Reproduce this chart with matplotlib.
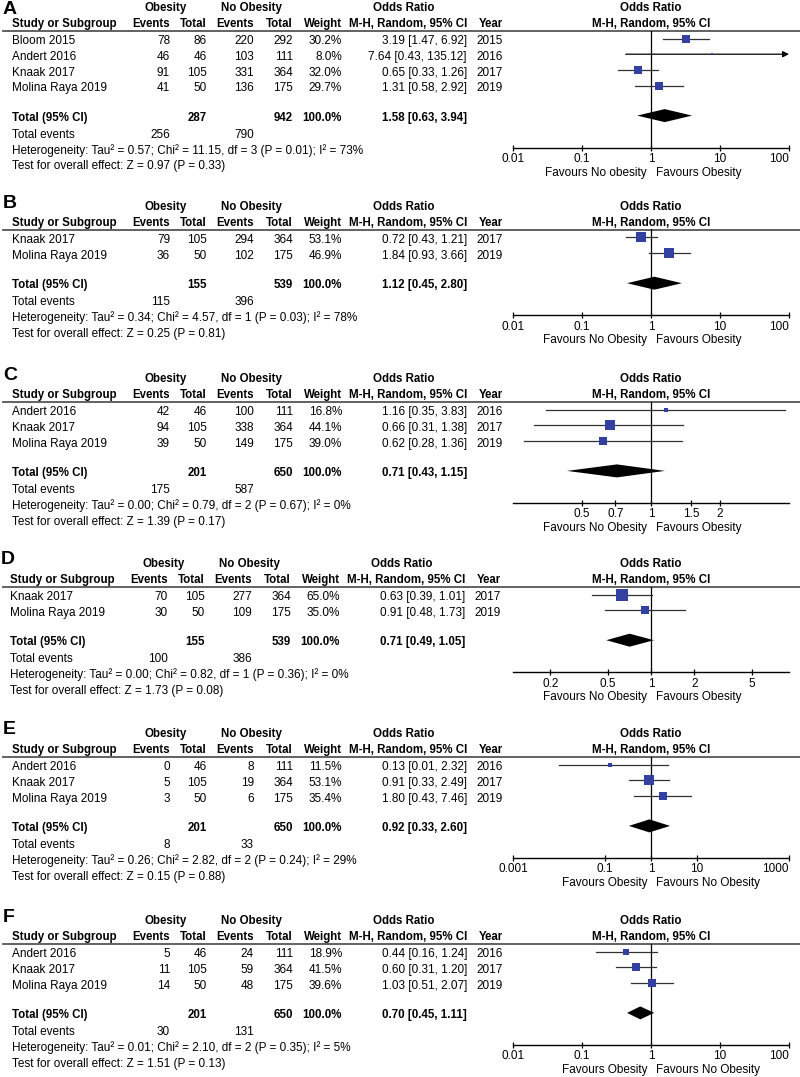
import math
import matplotlib
matplotlib.use("Agg")
import matplotlib.pyplot as plt
from matplotlib.ticker import NullLocator

plt.rcParams["font.family"] = ["Liberation Sans", "DejaVu Sans"]

# ---- Panel A ----
A_studies = ["Bloom 2015", "Andert 2016", "Knaak 2017", "Molina Raya 2019"]
A_ev_ob = [78, 46, 91, 41]
A_n_ob = [86, 46, 105, 50]
A_ev_no = [220, 103, 331, 136]
A_n_no = [292, 111, 364, 175]
A_weight = [30.2, 8.0, 32.0, 29.7]
A_or = [3.19, 7.64, 0.65, 1.31]
A_lo = [1.47, 0.43, 0.33, 0.58]
A_hi = [6.92, 135.12, 1.26, 2.92]
A_year = [2015, 2016, 2017, 2019]
A_total = [287, 942, 1.58, 0.63, 3.94]
A_events = [256, 790]
A_het = [0.57, 11.15, 3, 0.01, 73]
A_test = [0.97, 0.33]
A_ticks = [0.01, 0.1, 1, 10, 100]
A_favours = ["Favours No obesity", "Favours Obesity"]

# ---- Panel B ----
B_studies = ["Knaak 2017", "Molina Raya 2019"]
B_ev_ob = [79, 36]
B_n_ob = [105, 50]
B_ev_no = [294, 102]
B_n_no = [364, 175]
B_weight = [53.1, 46.9]
B_or = [0.72, 1.84]
B_lo = [0.43, 0.93]
B_hi = [1.21, 3.66]
B_year = [2017, 2019]
B_total = [155, 539, 1.12, 0.45, 2.80]
B_events = [115, 396]
B_het = [0.34, 4.57, 1, 0.03, 78]
B_test = [0.25, 0.81]
B_ticks = [0.01, 0.1, 1, 10, 100]
B_favours = ["Favours No Obesity", "Favours Obesity"]

# ---- Panel C ----
C_studies = ["Andert 2016", "Knaak 2017", "Molina Raya 2019"]
C_ev_ob = [42, 94, 39]
C_n_ob = [46, 105, 50]
C_ev_no = [100, 338, 149]
C_n_no = [111, 364, 175]
C_weight = [16.8, 44.1, 39.0]
C_or = [1.16, 0.66, 0.62]
C_lo = [0.35, 0.31, 0.28]
C_hi = [3.83, 1.38, 1.36]
C_year = [2016, 2017, 2019]
C_total = [201, 650, 0.71, 0.43, 1.15]
C_events = [175, 587]
C_het = [0.00, 0.79, 2, 0.67, 0]
C_test = [1.39, 0.17]
C_ticks = [0.5, 0.7, 1, 1.5, 2]
C_favours = ["Favours No Obesity", "Favours Obesity"]

# ---- Panel D ----
D_studies = ["Knaak 2017", "Molina Raya 2019"]
D_ev_ob = [70, 30]
D_n_ob = [105, 50]
D_ev_no = [277, 109]
D_n_no = [364, 175]
D_weight = [65.0, 35.0]
D_or = [0.63, 0.91]
D_lo = [0.39, 0.48]
D_hi = [1.01, 1.73]
D_year = [2017, 2019]
D_total = [155, 539, 0.71, 0.49, 1.05]
D_events = [100, 386]
D_het = [0.00, 0.82, 1, 0.36, 0]
D_test = [1.73, 0.08]
D_ticks = [0.2, 0.5, 1, 2, 5]
D_favours = ["Favours No Obesity", "Favours Obesity"]

# ---- Panel E ----
E_studies = ["Andert 2016", "Knaak 2017", "Molina Raya 2019"]
E_ev_ob = [0, 5, 3]
E_n_ob = [46, 105, 50]
E_ev_no = [8, 19, 6]
E_n_no = [111, 364, 175]
E_weight = [11.5, 53.1, 35.4]
E_or = [0.13, 0.91, 1.80]
E_lo = [0.01, 0.33, 0.43]
E_hi = [2.32, 2.49, 7.46]
E_year = [2016, 2017, 2019]
E_total = [201, 650, 0.92, 0.33, 2.60]
E_events = [8, 33]
E_het = [0.26, 2.82, 2, 0.24, 29]
E_test = [0.15, 0.88]
E_ticks = [0.001, 0.1, 1, 10, 1000]
E_favours = ["Favours Obesity", "Favours No Obesity"]

# ---- Panel F ----
F_studies = ["Andert 2016", "Knaak 2017", "Molina Raya 2019"]
F_ev_ob = [5, 11, 14]
F_n_ob = [46, 105, 50]
F_ev_no = [24, 59, 48]
F_n_no = [111, 364, 175]
F_weight = [18.9, 41.5, 39.6]
F_or = [0.44, 0.60, 1.03]
F_lo = [0.16, 0.31, 0.51]
F_hi = [1.24, 1.20, 2.07]
F_year = [2016, 2017, 2019]
F_total = [201, 650, 0.70, 0.45, 1.11]
F_events = [30, 131]
F_het = [0.01, 2.10, 2, 0.35, 5]
F_test = [1.51, 0.13]
F_ticks = [0.01, 0.1, 1, 10, 100]
F_favours = ["Favours Obesity", "Favours No Obesity"]

labels = ["A", "B", "C", "D", "E", "F"]
panels = [
    (A_studies, A_ev_ob, A_n_ob, A_ev_no, A_n_no, A_weight, A_or, A_lo, A_hi, A_year,
     A_total, A_events, A_het, A_test, A_ticks, A_favours),
    (B_studies, B_ev_ob, B_n_ob, B_ev_no, B_n_no, B_weight, B_or, B_lo, B_hi, B_year,
     B_total, B_events, B_het, B_test, B_ticks, B_favours),
    (C_studies, C_ev_ob, C_n_ob, C_ev_no, C_n_no, C_weight, C_or, C_lo, C_hi, C_year,
     C_total, C_events, C_het, C_test, C_ticks, C_favours),
    (D_studies, D_ev_ob, D_n_ob, D_ev_no, D_n_no, D_weight, D_or, D_lo, D_hi, D_year,
     D_total, D_events, D_het, D_test, D_ticks, D_favours),
    (E_studies, E_ev_ob, E_n_ob, E_ev_no, E_n_no, E_weight, E_or, E_lo, E_hi, E_year,
     E_total, E_events, E_het, E_test, E_ticks, E_favours),
    (F_studies, F_ev_ob, F_n_ob, F_ev_no, F_n_no, F_weight, F_or, F_lo, F_hi, F_year,
     F_total, F_events, F_het, F_test, F_ticks, F_favours),
]

# layout (pixels)
W, H = 800, 1077
tops = [7, 206, 378, 563, 733, 920]
table_dx = [0, 0, 0, -2, 0, 0]
xlims = [(0.01, 100), (0.01, 100), (0.25, 4), (0.11, 9.1), (0.001, 1000), (0.01, 100)]
PL, PR = 513, 789
col_right = [170, 207, 254, 293, 342, 467, 503]
FS = 8.45
FSB = 8.3
blue = "#3340A0"

fig = plt.figure(figsize=(8, 10.77), dpi=100)
bg = fig.add_axes([0, 0, 1, 1])
bg.set_xlim(0, W)
bg.set_ylim(H, 0)
bg.axis("off")


def txt(x, y, s, ha="left", bold=False):
    bg.text(x, y + 4.2, s, ha=ha, va="baseline", fontsize=FSB if bold else FS,
            fontweight="bold" if bold else "normal", color="black")


for k, p in enumerate(panels):
    (studies, ev_ob, n_ob, ev_no, n_no, weight, orv, lo, hi, year,
     total, events, het, test, ticks, favours) = p
    top = tops[k]
    dx = table_dx[k]
    line_y = top + 23.5
    rows = [top + 33 + 15.7 * i for i in range(len(studies))]
    tot_y = rows[-1] + 29.5
    ev_y = tot_y + 17
    het_y = tot_y + 33
    test_y = tot_y + 48.5
    axis_y = het_y - 2

    # panel letter
    bg.text(3 + dx, max(top - 3, 9), labels[k], ha="left", va="center",
            fontsize=14, fontweight="bold")

    # headers
    txt(166 + dx, top, "Obesity", ha="center", bold=True)
    txt(251 + dx, top, "No Obesity", ha="center", bold=True)
    txt(404 + dx, top, "Odds Ratio", ha="center", bold=True)
    txt(12 + dx, top + 15.5, "Study or Subgroup", bold=True)
    for x, s in zip(col_right, ["Events", "Total", "Events", "Total", "Weight",
                                "M-H, Random, 95% CI", "Year"]):
        txt(x + dx, top + 15.5, s, ha="right", bold=True)
    txt(651, top, "Odds Ratio", ha="center", bold=True)
    txt(651, top + 15.5, "M-H, Random, 95% CI", ha="center", bold=True)
    bg.plot([3, W], [line_y, line_y], color="#555555", lw=1.3)

    # study rows
    for i, y in enumerate(rows):
        txt(12 + dx, y, studies[i])
        vals = [str(ev_ob[i]), str(n_ob[i]), str(ev_no[i]), str(n_no[i]),
                "%.1f%%" % weight[i],
                "%.2f [%.2f, %.2f]" % (orv[i], lo[i], hi[i]), str(year[i])]
        for x, s in zip(col_right, vals):
            txt(x + dx, y, s, ha="right")

    # total rows
    txt(12 + dx, tot_y, "Total (95% CI)", bold=True)
    txt(col_right[1] + dx, tot_y, str(total[0]), ha="right", bold=True)
    txt(col_right[3] + dx, tot_y, str(total[1]), ha="right", bold=True)
    txt(col_right[4] + dx, tot_y, "100.0%", ha="right", bold=True)
    txt(col_right[5] + dx, tot_y, "%.2f [%.2f, %.2f]" % (total[2], total[3], total[4]),
        ha="right", bold=True)
    txt(12 + dx, ev_y, "Total events")
    txt(col_right[0] + dx, ev_y, str(events[0]), ha="right")
    txt(col_right[2] + dx, ev_y, str(events[1]), ha="right")
    txt(12 + dx, het_y, "Heterogeneity: Tau\u00b2 = %.2f; Chi\u00b2 = %.2f, df = %d (P = %.2f); I\u00b2 = %d%%"
        % tuple(het))
    txt(12 + dx, test_y, "Test for overall effect: Z = %.2f (P = %.2f)" % tuple(test))

    # forest plot
    ax = fig.add_axes([PL / W, 1 - axis_y / H, (PR - PL) / W, (axis_y - line_y) / H])
    ax.patch.set_alpha(0)
    ax.set_xscale("log")
    xl, xh = xlims[k]
    ax.set_xlim(xl, xh)
    ax.set_ylim(axis_y, line_y)
    for s in ["top", "left", "right"]:
        ax.spines[s].set_visible(False)
    ax.spines["bottom"].set_linewidth(1.0)
    ax.set_yticks([])
    ax.set_xticks(ticks)
    ax.set_xticklabels(["%g" % t for t in ticks])
    ax.xaxis.set_minor_locator(NullLocator())
    ax.tick_params(axis="x", direction="inout", length=5, width=0.9, pad=1.5,
                   labelsize=FS)
    for t, lab in zip(ticks, ax.get_xticklabels()):
        if t >= xh:
            lab.set_horizontalalignment("right")
    ax.axvline(1, color="black", lw=0.9, zorder=1)

    for i, y in enumerate(rows):
        ym = y - 1.5
        if hi[i] > xh:
            ax.annotate("", xy=(xh, ym), xytext=(lo[i], ym),
                        arrowprops=dict(arrowstyle="-|>", lw=0.9, color="black",
                                        mutation_scale=9, shrinkA=0, shrinkB=0),
                        annotation_clip=False)
        else:
            ax.plot([lo[i], hi[i]], [ym, ym], color="#333333", lw=0.9, zorder=2)
        side_px = 12.3 * (weight[i] / 65.0) ** 0.7
        ax.plot([orv[i]], [ym], marker="s", ms=side_px * 0.72, color=blue,
                mec=blue, mew=0, ls="none", zorder=3)

    yd = tot_y - 1
    ax.fill([total[3], total[2], total[4], total[2]], [yd, yd - 6.5, yd, yd + 6.5],
            color="black", lw=0, zorder=3)

    # favours labels
    xone = PL + (PR - PL) * (0 - math.log10(xl)) / (math.log10(xh) - math.log10(xl))
    txt(xone - 4, axis_y + 24, favours[0], ha="right")
    txt(xone + 5, axis_y + 24, favours[1], ha="left")

fig.savefig("out.png", dpi=100)
